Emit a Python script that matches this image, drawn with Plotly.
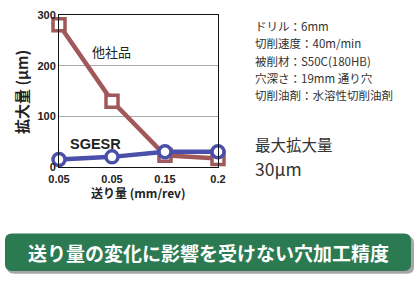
import plotly.graph_objects as go

feed_labels = ["0.05", "0.05", "0.15", "0.2"]
other_values = [281, 130, 23, 17]
sgesr_values = [15, 20, 30, 30]
y_ticks = [0, 100, 200, 300]

W, H = 417, 285
L, R, T, B = 59, 218, 9, 167  # plot area pixels

def px(x):
    return (x - L) / (R - L)

def py(y):
    return (B - y) / (B - T)

xs = list(range(len(feed_labels)))
JP = "Noto Sans CJK JP"

fig = go.Figure()
fig.add_trace(go.Scatter(
    x=xs, y=other_values, mode="lines+markers",
    line=dict(color="#A0585A", width=4.5),
    marker=dict(symbol="square", size=12, color="white",
                line=dict(color="#A0585A", width=3.5)),
    cliponaxis=False, showlegend=False))
fig.add_trace(go.Scatter(
    x=xs, y=sgesr_values, mode="lines+markers",
    line=dict(color="#4A4FAA", width=4.5),
    marker=dict(symbol="circle", size=12, color="white",
                line=dict(color="#4A4FAA", width=3.5)),
    cliponaxis=False, showlegend=False))

def rrect(x0, y0, x1, y1, r):
    def P(x, y):
        return f"{px(x):.5f},{py(y):.5f}"
    return (f"M {P(x0 + r, y0)} L {P(x1 - r, y0)} Q {P(x1, y0)} {P(x1, y0 + r)} "
            f"L {P(x1, y1 - r)} Q {P(x1, y1)} {P(x1 - r, y1)} "
            f"L {P(x0 + r, y1)} Q {P(x0, y1)} {P(x0, y1 - r)} "
            f"L {P(x0, y0 + r)} Q {P(x0, y0)} {P(x0 + r, y0)} Z")

shapes = [
    dict(type="path", xref="paper", yref="paper", path=rrect(7, 239, 414, 278, 7),
         fillcolor="rgba(0,0,0,0.35)", line=dict(width=0), layer="below"),
    dict(type="path", xref="paper", yref="paper", path=rrect(5, 236, 411, 275, 7),
         fillcolor="#2B7A52", line=dict(width=0), layer="below"),
]

anns = []

def add(text, x, y, size, color="#333", family=JP, xanchor="left", angle=0):
    anns.append(dict(text=text, xref="paper", yref="paper", x=px(x), y=py(y),
                     xanchor=xanchor, yanchor="middle", showarrow=False, textangle=angle,
                     font=dict(family=family, size=size, color=color)))

add("他社品", 111, 47, 13, "#222", xanchor="center")
add("<b>SGESR</b>", 95, 143, 14.5, "#222", family="Liberation Sans", xanchor="center")

info = ["ドリル：6mm", "切削速度：40m/min", "被削材：S50C(180HB)",
        "穴深さ：19mm 通り穴", "切削油剤：水溶性切削油剤"]
for i, t in enumerate(info):
    add(t, 253, 20.5 + i * 17.9, 11.5, "#333")
add("最大拡大量", 253, 143, 15.5, "#333")
add("30μm", 253, 169, 17.5, "#333")
add("<b>送り量の変化に影響を受けない穴加工精度</b>", 208, 255.5, 19, "white", xanchor="center")
add("<b>拡大量 (μm)</b>", 22, 89, 15, "#222", xanchor="center", angle=-90)
add("<b>送り量 (mm/rev)</b>", 138, 194, 12, "#222", xanchor="center")

fig.update_layout(
    width=W, height=H,
    margin=dict(l=L, r=W - R, t=T, b=H - B),
    plot_bgcolor="white", paper_bgcolor="white",
    xaxis=dict(range=[0, len(feed_labels) - 1], tickvals=xs, ticktext=feed_labels,
               showgrid=False, zeroline=False, showline=True, linecolor="#111",
               linewidth=1, mirror=True, ticks="", ticklen=0, ticklabelstandoff=2,
               tickfont=dict(family="Liberation Sans", size=11, color="#222")),
    yaxis=dict(range=[0, 300], tickvals=y_ticks, showgrid=True, gridcolor="#AAAAAA",
               gridwidth=1, zeroline=False, showline=True, linecolor="#111",
               linewidth=1, mirror=True, ticks="",
               tickfont=dict(family="Liberation Sans", size=11, color="#222")),
    shapes=shapes, annotations=anns,
)
fig.update_xaxes(tickfont_weight="bold")
fig.update_yaxes(tickfont_weight="bold")

fig.write_html("out.html")
